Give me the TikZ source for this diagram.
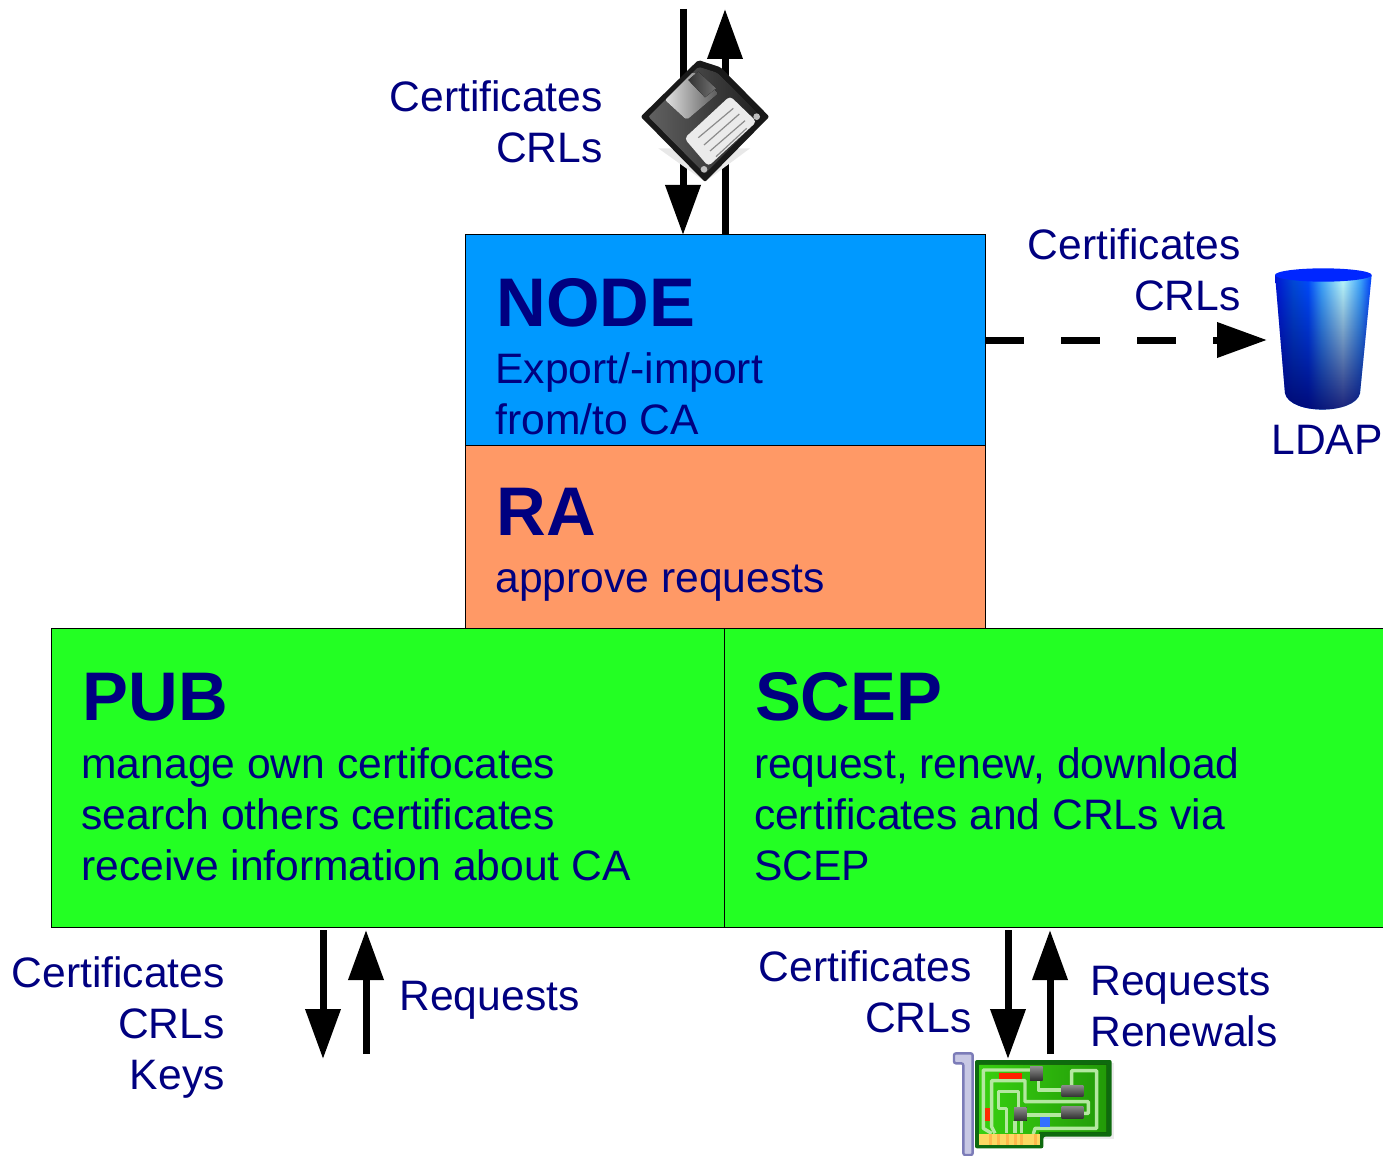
\documentclass[tikz,border=0pt]{standalone}
\usepackage{fontspec}
\setmainfont{Liberation Sans}
\usetikzlibrary{arrows.meta,fadings}
\definecolor{txt}{HTML}{000080}
\definecolor{nodeblue}{HTML}{0099FF}
\definecolor{raorange}{HTML}{FF9966}
\definecolor{boxgreen}{HTML}{23FF23}
\definecolor{tracegreen}{HTML}{B4E8A0}
\definecolor{brackfill}{HTML}{C8C8E4}
\definecolor{brackline}{HTML}{7C7CB8}
\definecolor{boardlight}{HTML}{38D010}
\definecolor{boardmid}{HTML}{229A08}
\definecolor{boardedge}{HTML}{0E6A0E}
\pgfdeclarehorizontalshading{cylshade}{100bp}{color(0bp)=(cyan!0!blue);
 color(25bp)=(cyan!10!blue!85!black);
 color(34.5bp)=(blue!65!cyan!85!black);
 color(42bp)=(blue!70!cyan);
 color(49bp)=(cyan!55!blue!75!white);
 color(60bp)=(cyan!25!white);
 color(69bp)=(cyan!55!blue!75!white);
 color(75bp)=(blue!75!cyan);
 color(100bp)=(blue)}
\tikzfading[name=cylfade,top color=transparent!100,middle color=transparent!75,bottom color=transparent!10]
\tikzset{
  box/.style={draw=black,line width=0.5pt,anchor=north west,inner sep=0pt,outer sep=0pt},
  lab/.style={text=txt,inner sep=0pt,outer sep=0pt,font=\fontsize{21.3}{25.4}\selectfont},
  labr/.style={lab,anchor=base east,align=right},
  labl/.style={lab,anchor=base west,align=left},
  head/.style={text=txt,inner sep=0pt,outer sep=0pt,anchor=base west,font=\fontsize{34.4}{40}\selectfont\bfseries},
  arr/.style={line width=3.5pt,-{Triangle[length=25pt,width=17pt]}},
  dasharr/.style={arr,dash pattern=on 19.5pt off 18.5pt},
  zoomed/.style={x=0.16667pt,y=-0.16667pt},
  trace/.style={draw=tracegreen,line width=1.7pt,line join=round},
  chip/.style={top color=black!45,bottom color=black!80},
}
\begin{document}
\begin{tikzpicture}[x=0.5pt,y=-0.5pt]
\useasboundingbox (0,0) rectangle (1383,1156);
\fill[white] (0,0) rectangle (1383,1156);
% boxes
\node[box,fill=nodeblue,minimum width=260pt,minimum height=105pt] (nodebox) at (465,235) {};
\node[box,fill=raorange,minimum width=260pt,minimum height=91.5pt] (rabox) at (465,445) {};
\node[box,fill=boxgreen,minimum width=336.5pt,minimum height=149.5pt] (pubbox) at (51,628) {};
\node[box,fill=boxgreen,minimum width=330pt,minimum height=149.5pt] (scepbox) at (724,628) {};
% free ends of connectors
\coordinate (topin) at (683,9);
\coordinate (topout) at (725,9);
\coordinate (ldapin) at (1267,340);
\coordinate (pubin) at (323,1059);
\coordinate (pubout) at (366,1054);
\coordinate (scepin) at (1008,1059);
\coordinate (scepout) at (1050,1054);
% connectors
\draw[arr] (topin) -- (topin |- nodebox.north);
\draw[arr] (topout |- nodebox.north) -- (topout);
\draw[dasharr] (nodebox.east) -- (ldapin);
\draw[arr] ([yshift=-1.5pt]pubin |- pubbox.south) -- (pubin);
\draw[arr] (pubout) -- ([yshift=-1.5pt]pubout |- pubbox.south);
\draw[arr] ([yshift=-1.5pt]scepin |- scepbox.south) -- (scepin);
\draw[arr] (scepout) -- ([yshift=-1.5pt]scepout |- scepbox.south);
% box texts
\node[head] (h1) at (496.5,326) {NODE};
\node[labl] (t1) at (495.5,434) {Export/-import\\from/to CA};
\node[head] (h2) at (496.5,535) {RA};
\node[labl] (t2) at (495.5,592) {approve requests};
\node[head] (h3) at (83,720) {PUB};
\node[labl] (t3) at (81.5,880) {manage own certifocates\\search others certificates\\receive information about CA};
\node[head] (h4) at (755,720) {SCEP};
\node[labl] (t4) at (754,880) {request, renew, download\\certificates and CRLs via\\SCEP};
% connector labels
\node[labr] (l1) at (602.7,162.5) {Certificates\\CRLs};
\node[labr] (l2) at (1240.7,310) {Certificates\\CRLs};
\node[lab,anchor=base] (l3) at (1327,454) {LDAP};
\node[labr] (l4) at (224.7,1089) {Certificates\\CRLs\\Keys};
\node[labl] (l5) at (399.5,1010) {Requests};
\node[labr] (l6) at (971.7,1032.5) {Certificates\\CRLs};
\node[labl] (l7) at (1090.5,1046) {Requests\\Renewals};
% floppy
\begin{scope}[shift={(630,0)},zoomed]
  \fill[black!9] (85,445) -- (360,445) -- (225,545) -- cycle;
  \fill[black!90,rounded corners=1pt] (32,350) -- (205,180) -- (272,202) -- (418,350) -- (225,546) -- cycle;
  \fill[left color=black!62,right color=black!88,rounded corners=1pt] (55,350) -- (205,200) -- (262,218) -- (395,350) -- (225,522) -- cycle;
  \fill[left color=black!12,right color=black!65,rounded corners=1pt] (105,300) -- (190,215) -- (265,280) -- (170,360) -- cycle;
  \fill[left color=black!80,right color=black!55] (175,240) -- (205,215) -- (258,265) -- (225,292) -- cycle;
  \fill[black!8,rounded corners=2pt] (163,415) -- (300,288) -- (380,365) -- (235,499) -- cycle;
  \draw[black!45,line width=0.6pt] (205,413) -- (310,325) (222,435) -- (328,342) (240,453) -- (345,362) (258,470) -- (350,385);
  \fill[black!25] (380,350) circle (10);
  \fill[black!25] (222,508) circle (10);
\end{scope}
% LDAP cylinder
\begin{scope}[shift={(1200,250)},zoomed]
  \shade[shading=cylshade] (225,75) -- (255,430) .. controls (270,495) and (465,495) .. (480,430) -- (515,75) -- cycle;
  \fill[black!60!blue,path fading=cylfade] (225,75) -- (255,430) .. controls (270,495) and (465,495) .. (480,430) -- (515,75) -- cycle;
  \fill[blue!85!cyan] (370,75) ellipse [x radius=145,y radius=20];
\end{scope}
% interface card
\begin{scope}[shift={(940,1030)},zoomed]
  \fill[black!8] (112,98) rectangle (522,328);
  \filldraw[fill=brackfill,draw=brackline,line width=1.2pt,rounded corners=1pt] (42,70) -- (98,70) -- (98,375) -- (70,375) -- (70,100) -- (42,100) -- cycle;
  \fill[boardedge,rounded corners=1pt] (105,90) -- (515,90) -- (515,320) -- (310,320) -- (310,355) -- (105,355) -- cycle;
  \fill[left color=boardlight,right color=boardmid] (118,104) -- (500,104) -- (500,306) -- (298,306) -- (298,342) -- (118,342) -- cycle;
  \draw[trace] (155,310) -- (130,295) -- (130,120) -- (270,120);
  \draw[trace] (165,310) -- (155,290) -- (155,152) -- (255,152) -- (255,215) -- (445,215) -- (445,250) -- (430,250);
  \draw[trace] (295,150) -- (295,180) -- (365,180);
  \draw[trace] (395,165) -- (395,122) -- (470,122) -- (470,295) -- (285,295) -- (280,312);
  \draw[trace] (235,235) -- (235,185) -- (175,185) -- (175,235) -- (200,235) -- (200,310);
  \draw[trace] (260,255) -- (365,255);
  \draw[trace] (225,272) -- (225,310) (245,272) -- (245,310);
  \fill[yellow!55!orange!60!white] (118,312) rectangle (300,345);
  \foreach \sx in {148,172,198,222,240,282} \fill[orange!80!yellow!70] (\sx,312) rectangle (\sx+8,345);
  \fill[red!75!orange] (178,128) rectangle (245,146);
  \fill[red!65!orange] (135,233) rectangle (150,272);
  \fill[blue!70!cyan!80!white] (300,262) rectangle (330,290);
  \fill[chip] (270,110) rectangle (308,150);
  \fill[chip] (365,165) rectangle (430,200);
  \fill[chip] (365,228) rectangle (430,265);
  \fill[chip] (222,232) rectangle (260,272);
\end{scope}
\end{tikzpicture}
\end{document}
